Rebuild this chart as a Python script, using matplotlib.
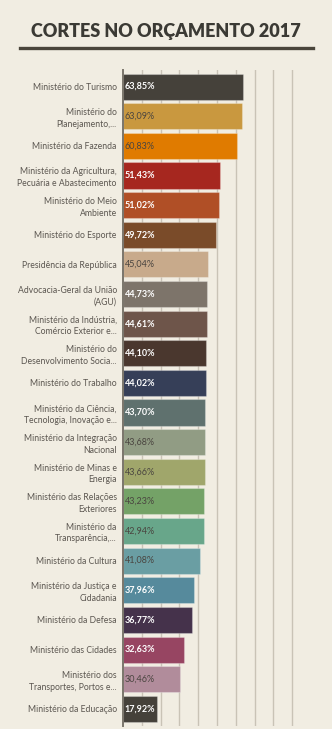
import matplotlib
matplotlib.use("Agg")
import matplotlib.pyplot as plt

# --- données ---
ministerios = [
    "Ministério do Turismo",
    "Ministério do\nPlanejamento,...",
    "Ministério da Fazenda",
    "Ministério da Agricultura,\nPecuária e Abastecimento",
    "Ministério do Meio\nAmbiente",
    "Ministério do Esporte",
    "Presidência da República",
    "Advocacia-Geral da União\n(AGU)",
    "Ministério da Indústria,\nComércio Exterior e...",
    "Ministério do\nDesenvolvimento Socia...",
    "Ministério do Trabalho",
    "Ministério da Ciência,\nTecnologia, Inovação e...",
    "Ministério da Integração\nNacional",
    "Ministério de Minas e\nEnergia",
    "Ministério das Relações\nExteriores",
    "Ministério da\nTransparência,...",
    "Ministério da Cultura",
    "Ministério da Justiça e\nCidadania",
    "Ministério da Defesa",
    "Ministério das Cidades",
    "Ministério dos\nTransportes, Portos e...",
    "Ministério da Educação",
]
cortes = [63.85, 63.09, 60.83, 51.43, 51.02, 49.72, 45.04, 44.73, 44.61, 44.10, 44.02,
          43.70, 43.68, 43.66, 43.23, 42.94, 41.08, 37.96, 36.77, 32.63, 30.46, 17.92]
cores = ["#45413a", "#c9983f", "#e07b00", "#a6271f", "#b04f26", "#7a4b29", "#c8aa8b",
         "#7d746a", "#6e554a", "#4a372e", "#363f58", "#5f716e", "#919c84", "#a0a66b",
         "#74a267", "#68a68a", "#6a9ea3", "#568a9c", "#45324b", "#974562", "#b18c9b",
         "#45413a"]
texto_claro = [True, False, False, True, True, True, False, True, True, True, True,
               True, False, False, False, False, False, True, True, True, False, True]

fundo = "#f1ede2"
plt.rcParams['font.family'] = ['Lato', 'DejaVu Sans']

W, H = 332, 729
fig = plt.figure(figsize=(W / 100, H / 100), dpi=100, facecolor=fundo)

# titre + soulignement
fig.text(166 / W, 1 - 32 / H, "CORTES NO ORÇAMENTO 2017", ha="center", va="center",
         fontsize=13, fontweight="heavy", color="#3b3a34")
fig.add_artist(plt.Line2D([20 / W, 313 / W], [1 - 48 / H, 1 - 48 / H],
                          transform=fig.transFigure, color="#4a453b", linewidth=2.4))

ax = fig.add_axes([123 / W, 1 - 726 / H, 188 / W, (726 - 70) / H])
ax.set_facecolor(fundo)
y = list(range(len(cortes)))
ax.barh(y, cortes, height=0.88, color=cores, edgecolor=(1, 1, 1, 0.25), linewidth=0.8,
        zorder=3)
ax.set_xlim(0, 100)
ax.set_ylim(len(cortes) - 0.42, -0.56)

ax.set_xticks(range(10, 100, 10))
ax.xaxis.grid(True, color="#c9c3b6", linewidth=1.0, zorder=0)
ax.tick_params(axis="x", length=0, labelbottom=False)
ax.set_yticks(y)
ax.set_yticklabels(ministerios, fontsize=6.2, color="#5b5650", linespacing=1.35)
ax.tick_params(axis="y", length=0, pad=4.5)
for lado in ["top", "right", "bottom"]:
    ax.spines[lado].set_visible(False)
ax.spines["left"].set_color("#7a756b")
ax.spines["left"].set_linewidth(1.4)
ax.spines["left"].set_zorder(5)

for i, (v, claro) in enumerate(zip(cortes, texto_claro)):
    rotulo = f"{v:.2f}%".replace(".", ",")
    ax.text(1.0, i, rotulo, va="center", ha="left", fontsize=6.5, zorder=4,
            color="white" if claro else "#4a4540",
            fontweight="bold" if claro else "normal")

fig.savefig("out.png", dpi=100, facecolor=fundo)
